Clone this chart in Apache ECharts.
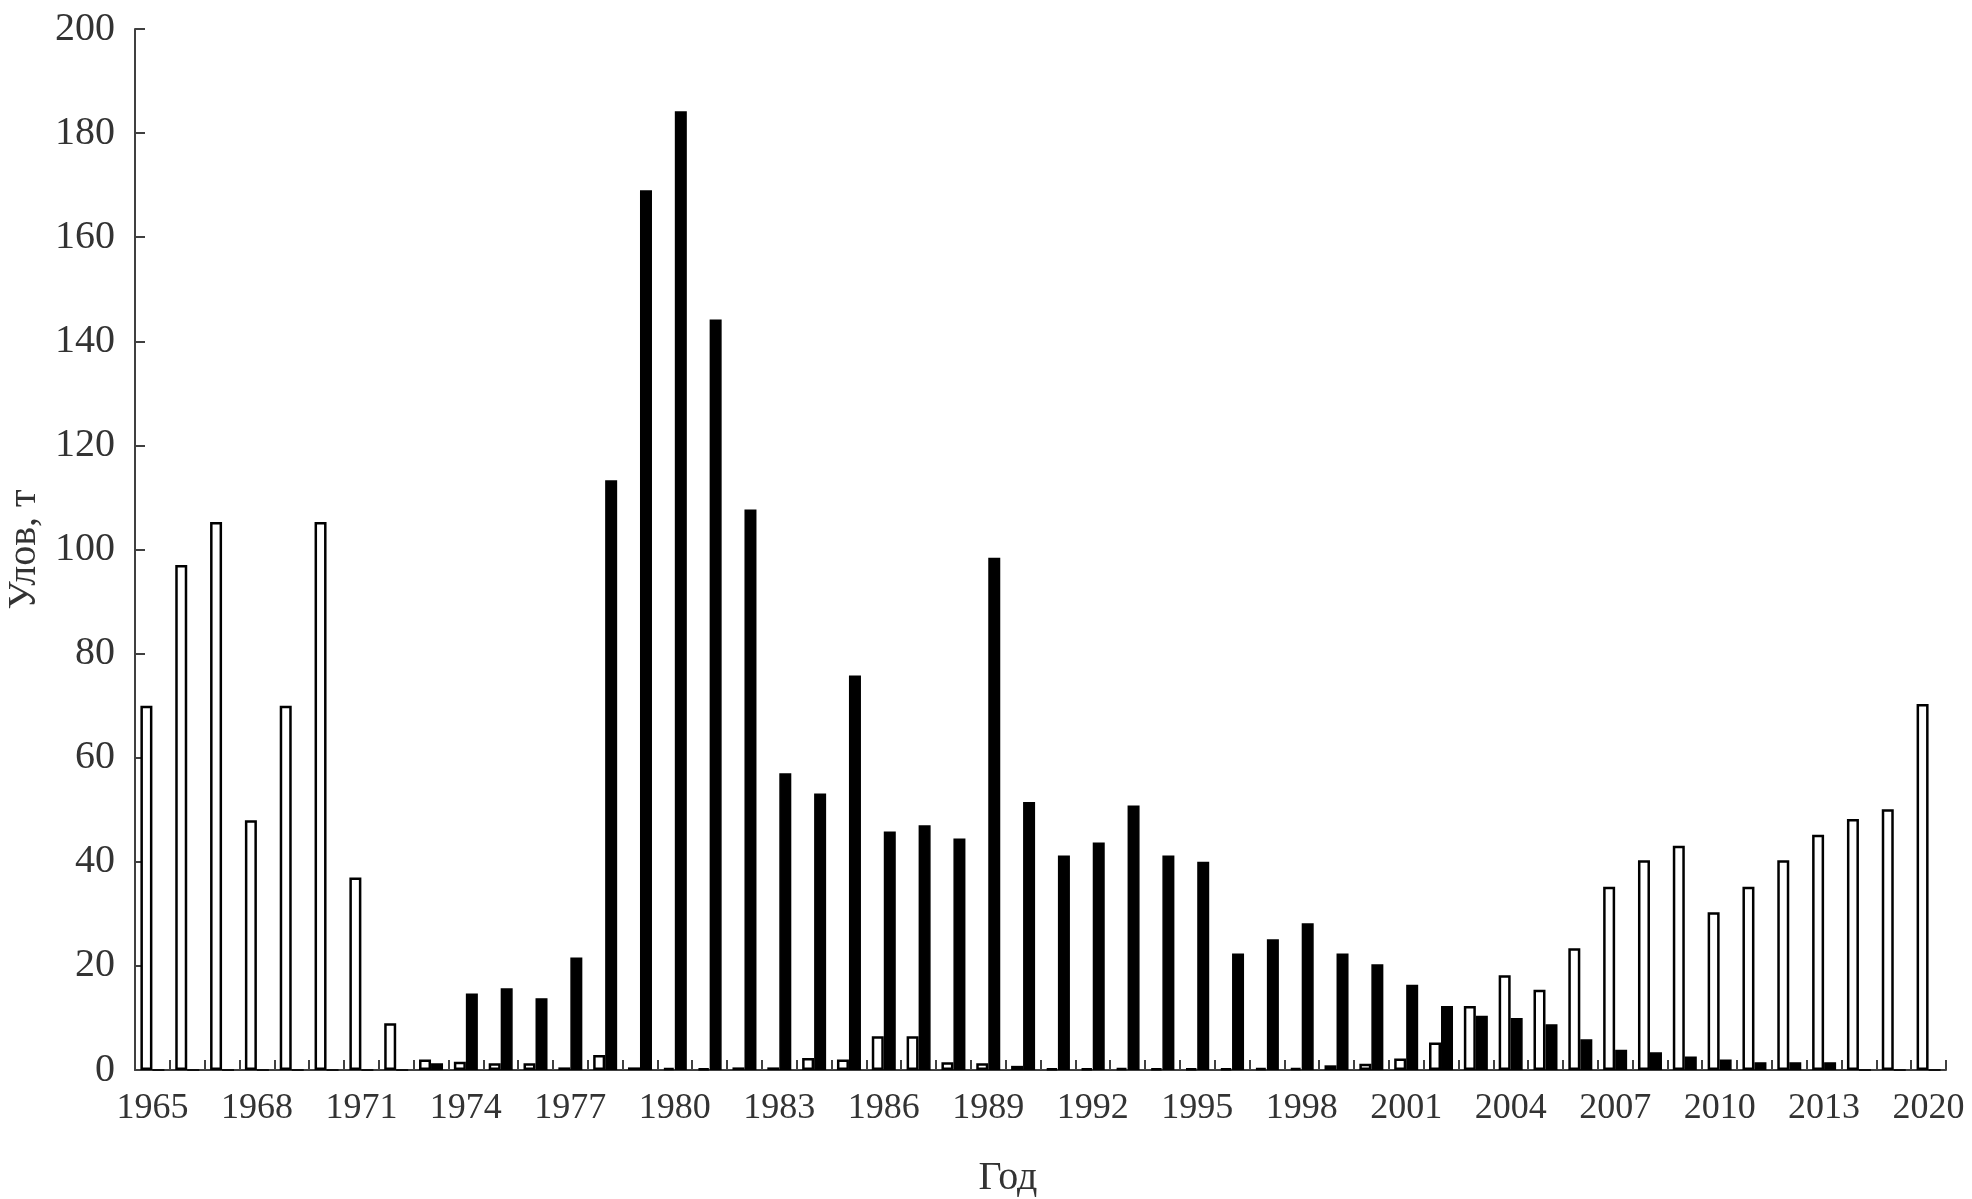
<!DOCTYPE html>
<html>
<head>
<meta charset="utf-8">
<script src="https://cdn.jsdelivr.net/npm/echarts@6/dist/echarts.min.js"></script>
<style>
  html, body { margin: 0; padding: 0; background: #ffffff; }
  #chart { width: 1972px; height: 1199px; }
</style>
</head>
<body>
<div id="chart"></div>
<script>
// Years (categories): 1965–2015 and 2020
const years = [
  '1965','1966','1967','1968','1969','1970','1971','1972','1973','1974',
  '1975','1976','1977','1978','1979','1980','1981','1982','1983','1984',
  '1985','1986','1987','1988','1989','1990','1991','1992','1993','1994',
  '1995','1996','1997','1998','1999','2000','2001','2002','2003','2004',
  '2005','2006','2007','2008','2009','2010','2011','2012','2013','2014',
  '2015','2020'
];

// White (outlined) bars, catch, t
const whiteSeries = [
  70, 97, 105.3, 48, 70, 105.3, 37, 9, 2, 1.6,
  1.3, 1.3, 0.5, 2.9, 0.5, 0.4, 0.3, 0.5, 0.5, 2.3,
  2, 6.5, 6.5, 1.5, 1.3, 0.8, 0.3, 0.3, 0.4, 0.3,
  0.3, 0.3, 0.4, 0.4, 0.9, 1.2, 2.2, 5.3, 12.3, 18.2,
  15.4, 23.4, 35.2, 40.3, 43.1, 30.3, 35.2, 40.3, 45.2, 48.2,
  50.1, 70.3
];

// Black (filled) bars, catch, t
const blackSeries = [
  0, 0, 0, 0, 0, 0, 0, 0, 1.3, 14.7,
  15.7, 13.8, 21.6, 113.3, 169, 184.2, 144.2, 107.7, 57, 53.1,
  75.8, 45.8, 47, 44.5, 98.4, 51.5, 41.2, 43.7, 50.8, 41.2,
  40, 22.4, 25.1, 28.2, 22.4, 20.3, 16.4, 12.3, 10.4, 10,
  8.8, 5.9, 3.9, 3.4, 2.6, 2, 1.5, 1.5, 1.5, 0,
  0, 0
];

const yMin = 0, yMax = 200, yStep = 20;
const xAxisName = 'Год';
const yAxisName = 'Улов, т';

const FONT = "'Liberation Serif', 'Times New Roman', serif";
const TXT = '#333333';
const AX = '#404040';

const chart = echarts.init(document.getElementById('chart'), null, { renderer: 'canvas' });
chart.setOption({
  backgroundColor: '#ffffff',
  animation: false,
  grid: { left: 135, right: 26, top: 29, bottom: 129, containLabel: false, outerBoundsMode: 'none' },
  xAxis: {
    type: 'category',
    data: years,
    boundaryGap: true,
    axisLine: { lineStyle: { color: AX, width: 2 } },
    axisTick: { show: true, inside: true, length: 10, interval: 0, alignWithLabel: false, lineStyle: { color: AX, width: 2 } },
    axisLabel: { interval: 2, margin: 21, color: TXT, fontFamily: FONT, fontSize: 36 },
    splitLine: { show: false }
  },
  yAxis: {
    type: 'value',
    min: yMin, max: yMax, interval: yStep,
    name: yAxisName,
    nameLocation: 'middle',
    nameGap: 91,
    nameTextStyle: { color: TXT, fontFamily: FONT, fontSize: 40 },
    axisLine: { show: true, lineStyle: { color: AX, width: 2 } },
    axisTick: { show: true, inside: true, length: 10, lineStyle: { color: AX, width: 2 } },
    axisLabel: { margin: 20, color: TXT, fontFamily: FONT, fontSize: 40 },
    splitLine: { show: false }
  },
  graphic: [{
    type: 'text',
    style: { x: 1008, y: 1178, text: xAxisName, textAlign: 'center', textVerticalAlign: 'middle',
             fill: TXT, font: "40px 'Liberation Serif', 'Times New Roman', serif" }
  }],
  series: [
    {
      name: 'white', type: 'bar', data: whiteSeries,
      barWidth: 12, barGap: '0%',
      itemStyle: { color: '#ffffff', borderColor: '#000000', borderWidth: 2.5 }
    },
    {
      name: 'black', type: 'bar', data: blackSeries,
      barWidth: 12,
      itemStyle: { color: '#000000', borderColor: '#000000', borderWidth: 1.5 }
    }
  ]
});
</script>
</body>
</html>
